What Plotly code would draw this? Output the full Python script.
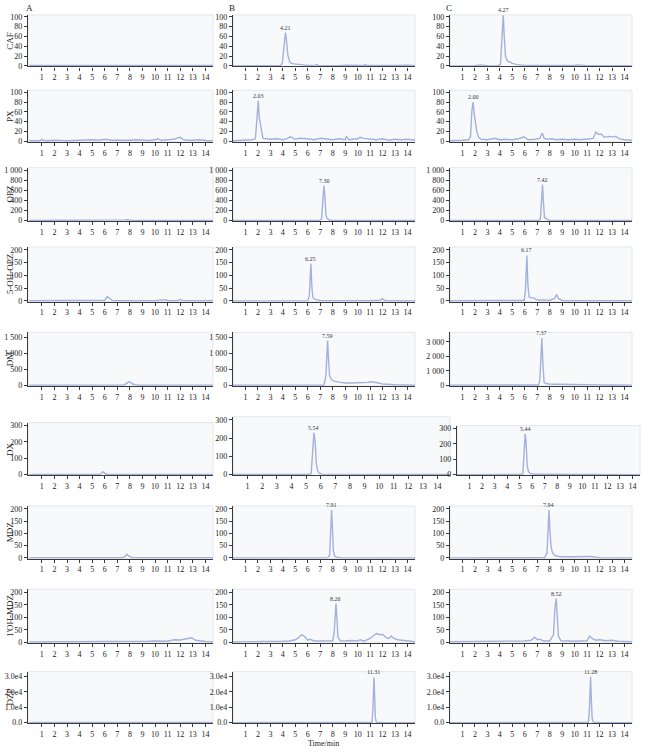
import plotly.graph_objects as go

W, H = 651, 755

# ---- data: retention time (min) and intensity for each panel ----
caf_a_t = [0, 0.5, 1, 1.5, 2, 2.5, 3, 3.5, 3.8, 4, 4.3, 4.9, 5.2, 6, 6.5, 7, 7.3, 7.8, 8.3, 9, 9.5, 10, 10.5, 11, 11.5, 12, 12.5, 13, 13.5, 13.9, 14.2, 14.6]
caf_a_y = [1, 1, 1.5, 1, 1, 1.2, 1, 1.5, 2.5, 2, 1, 2, 1, 1, 1.2, 2, 1.5, 2, 1, 1.2, 1, 1.5, 1, 1.2, 2, 1.5, 1, 1.2, 1, 2.5, 1, 1]
caf_b_t = [0, 1, 2, 3, 3.8, 3.95, 4.05, 4.15, 4.21, 4.3, 4.4, 4.55, 4.7, 4.9, 5.2, 5.5, 6, 6.6, 6.7, 6.8, 7.5, 8.5, 9, 9.5, 10, 10.5, 10.6, 10.7, 11.5, 12, 12.5, 13, 14, 14.6]
caf_b_y = [0, 0, 0, 0, 0.5, 5, 30, 60, 68, 50, 22, 8, 5, 4, 3, 2, 1, 1.5, 3, 1, 0.5, 0.5, 1.5, 1, 1.5, 1, 3, 1, 1, 1.5, 0.5, 1, 1.5, 0.5]
caf_c_t = [0, 1, 2, 2.4, 2.6, 3, 3.8, 4.05, 4.15, 4.22, 4.27, 4.35, 4.45, 4.6, 4.8, 5.0, 5.3, 5.6, 6, 7, 8, 9, 10, 10.2, 11, 12, 13, 13.8, 14, 14.6]
caf_c_y = [0, 0, 0.5, 2, 1, 0.5, 0, 3, 50, 95, 103, 60, 20, 10, 7, 5, 3, 2, 1, 1, 0.5, 0.5, 1, 2, 0.5, 0.5, 0.5, 2, 0.5, 0]

px_a_t = [0, 0.8, 1, 1.3, 2, 2.5, 3, 3.5, 4, 4.5, 5, 5.5, 6, 6.5, 7, 7.5, 8, 8.5, 9, 9.5, 10, 10.2, 10.5, 11, 11.5, 11.8, 12, 12.2, 12.5, 13, 13.5, 14, 14.6]
px_a_y = [1, 1, 3, 1, 2, 1, 1, 1.5, 2, 3, 3, 2, 4, 2, 1.5, 1, 2, 3, 2, 1.5, 3, 5, 2, 3, 4, 7, 8, 4, 2, 2, 3, 1.5, 1]
px_b_t = [0, 1, 1.5, 1.8, 1.9, 2.0, 2.03, 2.1, 2.2, 2.3, 2.4, 2.6, 3, 3.5, 4, 4.3, 4.6, 5, 5.3, 6, 6.5, 7, 7.5, 8, 8.5, 9, 9.1, 9.3, 10, 10.2, 10.5, 11, 11.5, 12, 12.5, 13, 13.5, 14, 14.6]
px_b_y = [1, 2, 3, 5, 40, 80, 83, 50, 38, 20, 6, 5, 4, 5, 3, 5, 9, 4, 6, 5, 3, 6, 4, 3, 5, 3, 10, 3, 5, 8, 6, 4, 3, 5, 2, 4, 3, 4, 2]
px_c_t = [0, 0.5, 1, 1.5, 1.65, 1.75, 1.85, 1.95, 2.05, 2.15, 2.3, 2.5, 3, 3.6, 4, 4.5, 5, 5.5, 5.9, 6.3, 6.8, 7.2, 7.4, 7.55, 7.8, 8.2, 8.5, 9, 9.5, 10, 10.5, 11, 11.5, 11.7, 11.9, 12.1, 12.4, 12.7, 13, 13.3, 13.6, 14, 14.6]
px_c_y = [1, 1, 2, 3, 10, 60, 80, 55, 40, 20, 8, 4, 3, 6, 3, 4, 3, 5, 9, 3, 4, 6, 17, 6, 4, 5, 3, 4, 3, 4, 3, 5, 6, 19, 14, 15, 8, 10, 9, 10, 5, 3, 2]

opz_a_t = [0, 2, 4, 6, 7.2, 7.6, 7.8, 8.1, 9, 11, 13, 14.6]
opz_a_y = [2, 2, 3, 2, 3, 15, 20, 5, 2, 3, 2, 2]
opz_b_t = [0, 3, 6, 6.9, 7.1, 7.2, 7.3, 7.38, 7.45, 7.55, 7.65, 7.8, 9, 12, 14.6]
opz_b_y = [1, 1, 1, 2, 30, 300, 700, 450, 120, 40, 30, 5, 2, 2, 1]
opz_c_t = [0, 3, 6, 7.1, 7.25, 7.35, 7.42, 7.5, 7.58, 7.65, 7.75, 7.9, 9, 12, 14.6]
opz_c_y = [1, 1, 1, 2, 30, 400, 720, 350, 60, 50, 30, 5, 2, 2, 1]

oh_opz_a_t = [0, 2, 4, 5.5, 6.0, 6.2, 6.35, 6.6, 7, 8, 9, 10, 10.8, 11, 11.8, 12, 12.2, 13, 14.6]
oh_opz_a_y = [1, 1, 1, 1, 3, 17, 12, 2, 1, 1, 2, 1, 5, 1, 2, 6, 1, 1, 1]
oh_opz_b_t = [0, 3, 5.5, 6.0, 6.12, 6.2, 6.25, 6.32, 6.4, 6.5, 6.7, 7, 8, 9, 10, 11, 11.8, 12, 12.2, 13, 14.6]
oh_opz_b_y = [0, 0, 0.5, 1, 20, 120, 145, 60, 15, 8, 4, 2, 1, 1, 1, 1, 3, 8, 2, 1, 0]
oh_opz_c_t = [0, 3, 5.5, 5.95, 6.05, 6.12, 6.17, 6.25, 6.35, 6.5, 6.7, 6.9, 7.1, 7.5, 8, 8.4, 8.55, 8.7, 9, 10, 12, 14.6]
oh_opz_c_y = [1, 1, 1, 2, 40, 150, 178, 60, 15, 12, 12, 6, 3, 4, 2, 10, 25, 10, 2, 1, 2, 1]

dm_a_t = [0, 3, 6, 7.5, 7.75, 7.9, 8.05, 8.2, 8.4, 8.7, 10, 12, 14.6]
dm_a_y = [5, 5, 5, 5, 60, 110, 90, 40, 20, 5, 5, 5, 5]
dm_b_t = [0, 3, 6, 7.3, 7.45, 7.52, 7.59, 7.65, 7.75, 7.9, 8.1, 8.5, 9, 9.5, 10, 10.5, 10.8, 11, 11.3, 11.6, 12, 12.5, 13, 14, 14.6]
dm_b_y = [5, 5, 5, 10, 300, 1000, 1400, 900, 300, 180, 130, 100, 70, 70, 75, 70, 90, 110, 100, 80, 40, 20, 15, 10, 5]
dm_c_t = [0, 3, 6, 7.1, 7.2, 7.3, 7.37, 7.45, 7.55, 7.7, 8, 8.5, 9, 10, 11, 11.5, 12, 13, 14.6]
dm_c_y = [10, 10, 10, 20, 300, 2000, 3250, 1500, 200, 120, 80, 70, 70, 60, 80, 50, 30, 20, 10]

dx_a_t = [0, 3, 5, 5.6, 5.75, 5.85, 6.0, 6.2, 8, 11, 14.6]
dx_a_y = [1, 1, 1, 2, 10, 18, 8, 2, 1, 1, 1]
dx_b_t = [0, 3, 5, 5.35, 5.45, 5.54, 5.62, 5.7, 5.8, 5.9, 6.1, 8, 11, 14.85]
dx_b_y = [0, 0, 0, 5, 120, 230, 180, 60, 20, 8, 2, 1, 1, 0]
dx_c_t = [0, 3, 4.9, 5.25, 5.35, 5.44, 5.52, 5.6, 5.7, 5.85, 6.1, 8, 11, 14.6]
dx_c_y = [0, 0, 1, 5, 150, 265, 200, 60, 20, 8, 2, 1, 1, 0]

mdz_a_t = [0, 3, 6, 7.4, 7.6, 7.75, 7.9, 8.1, 8.4, 10, 12, 14.6]
mdz_a_y = [1, 1, 1, 1, 5, 15, 8, 3, 1, 1, 1, 1]
mdz_b_t = [0, 3, 6, 7.6, 7.75, 7.85, 7.91, 7.98, 8.05, 8.15, 8.3, 8.6, 10, 12, 14.6]
mdz_b_y = [0, 0, 0, 1, 10, 150, 195, 120, 30, 8, 3, 1, 1, 1, 0]
mdz_c_t = [0, 3, 6, 7.6, 7.78, 7.88, 7.94, 8.02, 8.1, 8.2, 8.35, 8.6, 9, 10, 10.5, 11, 11.3, 11.6, 12, 14.6]
mdz_c_y = [0, 0, 0, 1, 20, 170, 195, 110, 50, 25, 12, 7, 5, 5, 4, 6, 6, 3, 1, 0]

oh_mdz_a_t = [0, 1, 2, 3, 4, 5, 6, 7, 8, 9, 9.5, 10, 10.5, 11, 11.3, 11.6, 12, 12.3, 12.6, 12.9, 13.2, 13.5, 14, 14.6]
oh_mdz_a_y = [1, 1, 1.5, 1, 2, 2, 3, 3, 2, 3, 4, 5, 3, 4, 8, 10, 9, 11, 13, 18, 8, 5, 3, 2]
oh_mdz_b_t = [0, 1, 2, 3, 4, 4.5, 5, 5.3, 5.5, 5.7, 6, 6.2, 6.5, 7, 7.5, 8, 8.12, 8.2, 8.26, 8.33, 8.42, 8.6, 9, 9.5, 10, 10.2, 10.5, 11, 11.3, 11.5, 11.8, 12, 12.3, 12.5, 12.7, 12.9, 13.2, 13.5, 14, 14.6]
oh_mdz_b_y = [1, 1, 2, 3, 4, 5, 10, 20, 30, 25, 8, 12, 5, 5, 4, 6, 40, 120, 155, 100, 20, 6, 5, 7, 5, 10, 4, 15, 25, 35, 30, 32, 18, 15, 25, 15, 10, 8, 5, 2]
oh_mdz_c_t = [0, 1, 2, 3, 3.5, 4, 4.5, 5, 5.5, 6, 6.5, 6.8, 7, 7.2, 7.5, 8, 8.3, 8.42, 8.52, 8.6, 8.7, 8.9, 9.3, 10, 10.5, 11, 11.2, 11.4, 11.7, 12, 12.5, 13, 13.5, 14, 14.6]
oh_mdz_c_y = [2, 2, 3, 3, 5, 3, 4, 5, 3, 5, 8, 20, 10, 12, 5, 5, 30, 140, 175, 120, 25, 6, 5, 4, 5, 6, 25, 15, 8, 10, 6, 8, 4, 3, 2]

dzp_a_t = [0, 5, 10, 14.6]
dzp_a_y = [40, 40, 40, 40]
dzp_b_t = [0, 5, 10, 11.15, 11.22, 11.28, 11.31, 11.36, 11.42, 11.5, 12, 14.6]
dzp_b_y = [0, 0, 50, 200, 8000, 25000, 29500, 18000, 3000, 300, 50, 0]
dzp_c_t = [0, 5, 10, 11.1, 11.18, 11.24, 11.28, 11.33, 11.4, 11.5, 12, 14.6]
dzp_c_y = [0, 0, 50, 200, 8000, 26000, 30000, 17000, 3000, 300, 50, 0]

analytes = ["CAF", "PX", "OPZ", "5-OH-OPZ", "DM", "DX", "MDZ", "1'OH-MDZ", "DZP"]
series = [
    [(caf_a_t, caf_a_y), (caf_b_t, caf_b_y), (caf_c_t, caf_c_y)],
    [(px_a_t, px_a_y), (px_b_t, px_b_y), (px_c_t, px_c_y)],
    [(opz_a_t, opz_a_y), (opz_b_t, opz_b_y), (opz_c_t, opz_c_y)],
    [(oh_opz_a_t, oh_opz_a_y), (oh_opz_b_t, oh_opz_b_y), (oh_opz_c_t, oh_opz_c_y)],
    [(dm_a_t, dm_a_y), (dm_b_t, dm_b_y), (dm_c_t, dm_c_y)],
    [(dx_a_t, dx_a_y), (dx_b_t, dx_b_y), (dx_c_t, dx_c_y)],
    [(mdz_a_t, mdz_a_y), (mdz_b_t, mdz_b_y), (mdz_c_t, mdz_c_y)],
    [(oh_mdz_a_t, oh_mdz_a_y), (oh_mdz_b_t, oh_mdz_b_y), (oh_mdz_c_t, oh_mdz_c_y)],
    [(dzp_a_t, dzp_a_y), (dzp_b_t, dzp_b_y), (dzp_c_t, dzp_c_y)],
]
# retention time labels on the peaks (columns B and C)
peak_labels_b = ["4.21", "2.03", "7.30", "6.25", "7.59", "5.54", "7.91", "8.26", "11.31"]
peak_labels_c = ["4.27", "2.00", "7.42", "6.17", "7.37", "5.44", "7.94", "8.52", "11.28"]

# y ticks per row
y_ticks = [
    [0, 20, 40, 60, 80, 100],
    [0, 20, 40, 60, 80, 100],
    [0, 200, 400, 600, 800, 1000],
    [0, 50, 100, 150, 200],
    [0, 500, 1000, 1500],
    [0, 100, 200, 300],
    [0, 50, 100, 150, 200],
    [0, 50, 100, 150, 200],
    [0, 10000, 20000, 30000],
]
dm_c_ticks = [0, 1000, 2000, 3000]
y_max = [104, 104, 1060, 211, 1660, 318, 212, 212, 33300]
dm_c_max = 3650


def tick_text(v, row):
    if row == 8:
        return "0.0" if v == 0 else "%.1fe4" % (v / 10000)
    return "{:,}".format(v).replace(",", " ")


def fx(px):
    return px / W


def fy(py):
    return 1 - py / H


# panel geometry in page pixels
col_left = [28, 233, 450]
col_right = [213, 415, 632]
row_top = [13, 89, 167, 247, 333, 424, 508, 592, 675]
row_bottom = [65, 141, 221, 302, 387, 477, 561, 646, 727]

font = "Liberation Serif, Times New Roman, serif"
line_color = "#a3b1dc"
axis_color = "#3a3a3a"
text_color = "#222"

fig = go.Figure()
shapes = []
annotations = []
layout = {}

n = 0
for r in range(9):
    for c in range(3):
        n += 1
        t, y = series[r][c]
        left, right, top = col_left[c], col_right[c], row_top[r]
        x_max = 14.6
        if r == 5 and c == 1:
            right, top, x_max = 450, 418, 14.85
        if r == 5 and c == 2:
            left, right, top = 457, 640, 427
        bottom = row_bottom[r]
        ymax = y_max[r]
        ticks = y_ticks[r]
        if r == 4 and c == 2:
            ymax, ticks = dm_c_max, dm_c_ticks
        x_lo = -0.1 if c == 0 else 0

        sfx = "" if n == 1 else str(n)
        xa = "x" + sfx
        ya = "y" + sfx
        fig.add_trace(go.Scatter(x=t, y=y, mode="lines", xaxis=xa, yaxis=ya,
                                 line=dict(color=line_color, width=1.4),
                                 showlegend=False, hoverinfo="skip"))

        layout["xaxis" + sfx] = dict(
            domain=[fx(left), fx(right)], anchor=ya, range=[x_lo, x_max],
            tickvals=list(range(1, 15)), ticks="outside", ticklen=3,
            tickcolor=axis_color, showline=True, linecolor=axis_color,
            linewidth=1.2, showgrid=False, zeroline=False,
            tickfont=dict(family=font, size=8, color=text_color),
        )
        layout["yaxis" + sfx] = dict(
            domain=[fy(bottom), fy(top)], anchor=xa,
            range=[-0.012 * ymax, ymax], tickvals=ticks,
            ticktext=[tick_text(v, r) for v in ticks],
            ticks="outside", ticklen=3, tickcolor=axis_color,
            showline=True, linecolor=axis_color, linewidth=1.2,
            showgrid=False, zeroline=False,
            tickfont=dict(family=font, size=8, color=text_color),
        )
        shapes.append(dict(type="rect", xref=xa + " domain", yref=ya + " domain",
                           x0=0, x1=1, y0=0, y1=1, layer="below",
                           line=dict(color="#e4e6ea", width=1),
                           fillcolor="#f8f9fb"))

        if c > 0:
            k = y.index(max(y))
            label = peak_labels_b[r] if c == 1 else peak_labels_c[r]
            annotations.append(dict(x=t[k], y=y[k], xref=xa, yref=ya, text=label,
                                    showarrow=False, xanchor="center", yanchor="bottom",
                                    font=dict(family=font, size=6, color="#333")))

    annotations.append(dict(x=fx(10), y=fy((row_top[r] + row_bottom[r]) / 2),
                            xref="paper", yref="paper", text=analytes[r],
                            textangle=-90, showarrow=False,
                            xanchor="center", yanchor="middle",
                            font=dict(family=font, size=9, color=text_color)))

for letter, px in zip(["A", "B", "C"], [29, 232, 449]):
    annotations.append(dict(x=fx(px), y=fy(6), xref="paper", yref="paper",
                            text=letter, showarrow=False,
                            xanchor="center", yanchor="middle",
                            font=dict(family=font, size=9, color=text_color)))
annotations.append(dict(x=fx(323), y=fy(747), xref="paper", yref="paper",
                        text="Time/min", showarrow=False,
                        xanchor="center", yanchor="middle",
                        font=dict(family=font, size=8, color=text_color)))

fig.update_layout(
    width=W, height=H,
    margin=dict(l=0, r=0, t=0, b=0),
    paper_bgcolor="white", plot_bgcolor="rgba(0,0,0,0)",
    shapes=shapes, annotations=annotations,
    font=dict(family=font),
    **layout,
)
# drop the page's default body margin so the figure sits at the window origin
fig.write_html("out.html", config={"displayModeBar": False},
               post_script="document.body.style.margin = '0';")
